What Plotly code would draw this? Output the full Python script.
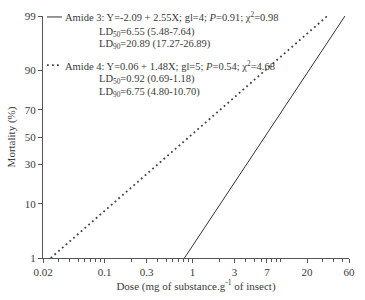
import math
from statistics import NormalDist
import plotly.graph_objects as go

# ---- data ----
y_tick_pct = [1, 10, 30, 50, 70, 90, 99]
x_tick_vals = [0.02, 0.1, 0.3, 1, 3, 7, 20, 60]
x_tick_text = ["0.02", "0.1", "0.3", "1", "3", "7", "20", "60"]

amide3_dose = [0.81, 54]
amide3_mort = [1, 99]
amide4_dose = [0.0245, 34]
amide4_mort = [1, 99]

legend_rows = [
    "Amide 3: Y=-2.09 + 2.55X; gl=4; <i>P</i>=0.91; χ<sup>2</sup>=0.98",
    "LD<sub>50</sub>=6.55 (5.48-7.64)",
    "LD<sub>90</sub>=20.89 (17.27-26.89)",
    "Amide 4: Y=0.06 + 1.48X; gl=5; <i>P</i>=0.54; χ<sup>2</sup>=4.68",
    "LD<sub>50</sub>=0.92 (0.69-1.18)",
    "LD<sub>90</sub>=6.75 (4.80-10.70)",
]

nd = NormalDist()


def probit(p):
    return nd.inv_cdf(p / 100.0)


FONT = "Liberation Serif, Times New Roman, serif"
TXT = "#3a3a3a"
AX = "#555555"

fig = go.Figure()
fig.add_trace(go.Scatter(
    x=amide3_dose, y=[probit(v) for v in amide3_mort], mode="lines",
    line=dict(color="#333333", width=1), showlegend=False, hoverinfo="skip"))
fig.add_trace(go.Scatter(
    x=amide4_dose, y=[probit(v) for v in amide4_mort], mode="lines",
    line=dict(color="#444444", width=1.8, dash="1.8px,3.2px"), showlegend=False,
    hoverinfo="skip"))

# minor ticks on log x axis
minor_vals = []
for dec in [0.01, 0.1, 1, 10]:
    for m in range(1, 10):
        v = round(m * dec, 6)
        if 0.02 <= v <= 60 and v not in x_tick_vals:
            minor_vals.append(v)

fig.update_xaxes(
    type="log", range=[math.log10(0.02), math.log10(60)],
    tickmode="array", tickvals=x_tick_vals, ticktext=x_tick_text,
    ticks="outside", ticklen=4, tickcolor=AX, tickwidth=1,
    minor=dict(tickmode="array", tickvals=minor_vals, ticks="outside",
               ticklen=3, tickcolor=AX, tickwidth=1, showgrid=False),
    showline=True, linecolor=AX, linewidth=1, showgrid=False, zeroline=False,
    tickfont=dict(family=FONT, size=11, color=TXT),
    title=dict(text="Dose (mg of substance.g<sup>-1</sup> of insect)",
               font=dict(family=FONT, size=11, color=TXT), standoff=4),
)
fig.update_yaxes(
    range=[probit(1), probit(99)],
    tickmode="array", tickvals=[probit(p) for p in y_tick_pct],
    ticktext=[str(p) for p in y_tick_pct],
    ticks="outside", ticklen=4, tickcolor=AX, tickwidth=1,
    showline=True, linecolor=AX, linewidth=1, showgrid=False, zeroline=False,
    tickfont=dict(family=FONT, size=11, color=TXT),
    title=dict(text="Mortality (%)", font=dict(family=FONT, size=11, color=TXT),
               standoff=6),
)

# legend block (annotations + sample lines)
row_y = [0.996, 0.932, 0.882, 0.797, 0.736, 0.683]
row_x = [0.064, 0.176, 0.176, 0.064, 0.176, 0.176]
for txt, xx, yy in zip(legend_rows, row_x, row_y):
    fig.add_annotation(x=xx, y=yy, xref="paper", yref="paper", text=txt,
                       showarrow=False, xanchor="left", yanchor="middle",
                       font=dict(family=FONT, size=10.5, color=TXT))
fig.add_shape(type="line", xref="paper", yref="paper", x0=0.013, x1=0.062,
              y0=row_y[0], y1=row_y[0], line=dict(color="#333333", width=1))
fig.add_shape(type="line", xref="paper", yref="paper", x0=0.013, x1=0.062,
              y0=row_y[3], y1=row_y[3],
              line=dict(color="#444444", width=1.8, dash="1.8px,3.2px"))

fig.update_layout(
    width=365, height=300,
    margin=dict(l=43, r=10, t=13, b=41),
    paper_bgcolor="white", plot_bgcolor="white",
    showlegend=False,
)

fig.write_html("out.html",
               config={"displayModeBar": False, "staticPlot": True},
               post_script="document.body.style.margin='0';"
                           "document.body.style.overflow='hidden';")
